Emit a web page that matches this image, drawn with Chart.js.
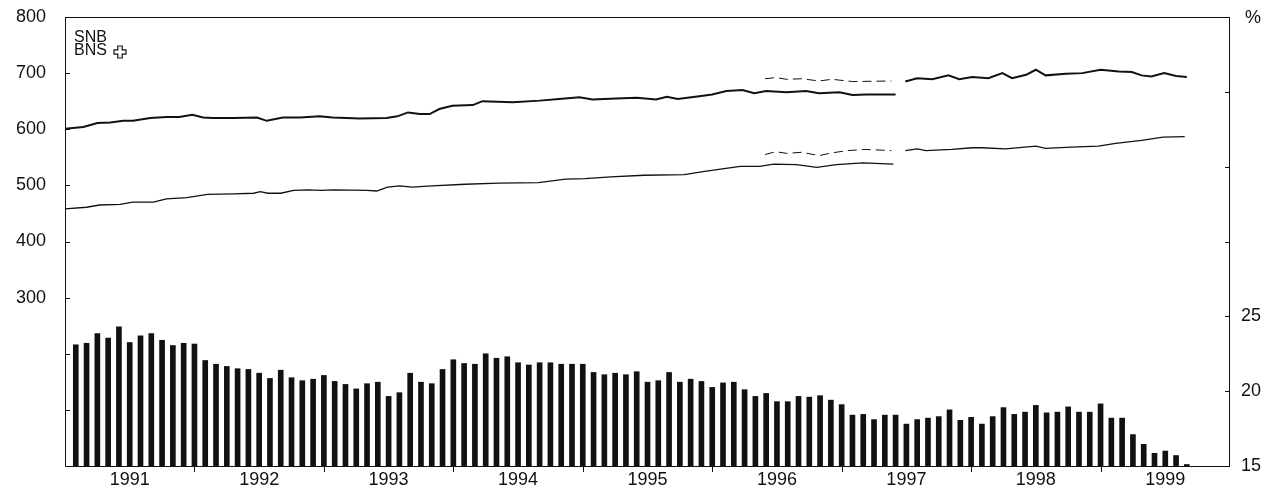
<!DOCTYPE html>
<html>
<head>
<meta charset="utf-8">
<script src="https://cdn.jsdelivr.net/npm/chart.js@4.4.1/dist/chart.umd.min.js"></script>
<style>
  html, body { margin: 0; padding: 0; background: #fff; }
  canvas { display: block; }
</style>
</head>
<body>
<canvas id="chart" width="1267" height="493"></canvas>
<script>
// year labels, centred on each year (x axis is in months since Jan 1991)
const years = ['1991', '1992', '1993', '1994', '1995', '1996', '1997', '1998', '1999'];

// monthly bars, right axis (%), one per month end from Jan 1991
const rateValues = [
    23.1, 23.2, 23.85, 23.55, 24.3, 23.25, 23.7, 23.85, 23.4, 23.05, 23.2, 23.15,
    22.05, 21.8, 21.65, 21.5, 21.45, 21.2, 20.85, 21.4, 20.9, 20.7, 20.8, 21.05,
    20.65, 20.45, 20.15, 20.5, 20.6, 19.65, 19.9, 21.2, 20.6, 20.5, 21.45, 22.1,
    21.85, 21.8, 22.5, 22.2, 22.3, 21.9, 21.75, 21.9, 21.9, 21.8, 21.8, 21.8,
    21.25, 21.1, 21.2, 21.1, 21.3, 20.6, 20.7, 21.25, 20.6, 20.8, 20.65, 20.25,
    20.55, 20.6, 20.1, 19.65, 19.85, 19.3, 19.3, 19.65, 19.6, 19.7, 19.4, 19.1,
    18.4, 18.45, 18.1, 18.4, 18.4, 17.8, 18.1, 18.2, 18.3, 18.75, 18.05, 18.25,
    17.8, 18.3, 18.9, 18.45, 18.6, 19.05, 18.55, 18.6, 18.95, 18.6, 18.6, 19.15,
    18.2, 18.2, 17.1, 16.45, 15.85, 16.0, 15.7, 15.1
];

// upper line (left axis), first solid part
const upperMonthsA = [0, 1.7, 3, 4.2, 5.4, 6.3, 7.9, 9.4, 10.6, 11.8, 12.8, 13.7, 15.6, 17.8, 18.7, 20.2, 21.8, 23.6, 24.8, 27.3, 29.8, 30.8, 31.8, 32.9, 33.8, 34.7, 35.9, 37.8, 38.7, 41.5, 44, 45.8, 47.7, 48.9, 51.1, 53, 54.8, 55.8, 56.8, 58.8, 60, 61.3, 62.8, 63.9, 65, 66.9, 68.7, 69.9, 71.8, 73, 74.3, 77];
const upperValuesA = [601, 604, 611, 612, 615, 615, 620, 622, 622, 626, 621, 620, 620, 621, 615, 621, 621, 623, 621, 619, 620, 623, 630, 627, 627, 636, 642, 643, 650, 648, 651, 654, 657, 653, 655, 656, 653, 658, 654, 659, 662, 668, 670, 664, 668, 666, 668, 664, 666, 661, 662, 662];
// upper line, second solid part
const upperMonthsB = [77.9, 79, 80.4, 81.9, 82.9, 84.1, 85.6, 86.9, 87.8, 89.1, 90, 90.9, 92.8, 94.3, 96, 97.7, 98.9, 99.8, 100.7, 101.9, 103, 104];
const upperValuesB = [685, 691, 689, 696, 689, 693, 691, 700, 691, 697, 706, 696, 699, 700, 706, 703, 702, 696, 694, 700, 695, 693];
// upper line, dashed part
const upperMonthsD = [64.9, 65.9, 66.9, 68.3, 69.9, 71.1, 73, 76.6];
const upperValuesD = [690, 692, 689, 690, 686, 689, 685, 686];

// lower line (left axis), first solid part
const lowerMonthsA = [0, 2, 3.2, 5.1, 6.3, 8.2, 9.4, 11.3, 13.2, 15.6, 17.5, 18.1, 18.8, 20, 21.2, 22.5, 23.7, 24.9, 28, 28.9, 29.9, 31, 32.2, 34, 37.1, 40.2, 43.9, 46.4, 48.2, 50.6, 53.7, 57.4, 59.3, 61.1, 62.6, 64.4, 65.7, 67.8, 69.7, 71.5, 74, 76.8];
const lowerValuesA = [458, 461, 465, 466, 470, 470, 476, 478, 484, 485, 486, 489, 486, 486, 491, 492, 491, 492, 491, 490, 497, 499, 497, 499, 502, 504, 505, 511, 512, 515, 518, 519, 525, 530, 534, 534, 538, 537, 532, 537, 540, 538];
// lower line, second solid part
const lowerMonthsB = [77.9, 79, 79.8, 82.2, 84.1, 85, 87.2, 90, 90.9, 93.3, 95.8, 97.4, 99.8, 101.8, 103.8];
const lowerValuesB = [562, 565, 562, 564, 567, 567, 565, 570, 566, 568, 570, 575, 580, 586, 587];
// lower line, dashed part
const lowerMonthsD = [64.9, 65.9, 66.9, 68.3, 69.9, 71.1, 72.6, 74.2, 76.6];
const lowerValuesD = [555, 560, 557, 559, 553, 558, 562, 564, 562];

const ink = '#111';
const font = { family: "'Liberation Sans', Arial, sans-serif", size: 18 };
const noGrid = { display: false, drawTicks: false, tickLength: 0 };

function pts(months, values) {
    return months.map((m, i) => ({ x: m, y: values[i] }));
}

function lineSet(months, values, width, dash) {
    return {
        type: 'line',
        data: pts(months, values),
        yAxisID: 'yLeft',
        borderColor: ink,
        borderWidth: width,
        borderDash: dash || [],
        pointRadius: 0,
        tension: 0,
        fill: false
    };
}

// fixed axis sizes, and no extra padding from tick labels
function fixSize(w, h) {
    return s => {
        if (w) s.width = w;
        if (h) s.height = h;
        s.paddingTop = 0;
        s.paddingBottom = 0;
        s.paddingLeft = 0;
        s.paddingRight = 0;
    };
}

// frame, inward ticks, year ticks, SNB mark and % label
const decorations = {
    id: 'decorations',
    afterDraw(chart) {
        const { ctx, chartArea: a, scales } = chart;
        ctx.save();
        ctx.strokeStyle = ink;
        ctx.lineWidth = 1;
        ctx.strokeRect(a.left + 0.5, a.top + 0.5, a.right - a.left - 1, a.bottom - a.top);

        ctx.beginPath();
        for (let v = 100; v < 800; v += 100) {
            const y = Math.round(scales.yLeft.getPixelForValue(v)) + 0.5;
            ctx.moveTo(a.left, y);
            ctx.lineTo(a.left + 5, y);
        }
        for (let v = 20; v < 45; v += 5) {
            const y = Math.round(scales.yRight.getPixelForValue(v)) + 0.5;
            ctx.moveTo(a.right, y);
            ctx.lineTo(a.right - 5, y);
        }
        for (let m = 12; m < 108; m += 12) {
            const x = Math.round(scales.x.getPixelForValue(m)) + 0.5;
            ctx.moveTo(x, a.bottom);
            ctx.lineTo(x, a.bottom + 6);
        }
        ctx.stroke();

        ctx.fillStyle = ink;
        ctx.font = "18px 'Liberation Sans', Arial, sans-serif";
        ctx.textAlign = 'left';
        ctx.textBaseline = 'middle';
        ctx.fillText('%', a.right + 15, 18);

        ctx.font = "16px 'Liberation Sans', Arial, sans-serif";
        ctx.fillText('SNB', a.left + 9, 38);
        ctx.fillText('BNS', a.left + 9, 51);

        // outlined Swiss cross
        const cx = a.left + 55, cy = 52, h = 2.2, s = 6;
        ctx.beginPath();
        ctx.moveTo(cx - h, cy - s);
        ctx.lineTo(cx + h, cy - s);
        ctx.lineTo(cx + h, cy - h);
        ctx.lineTo(cx + s, cy - h);
        ctx.lineTo(cx + s, cy + h);
        ctx.lineTo(cx + h, cy + h);
        ctx.lineTo(cx + h, cy + s);
        ctx.lineTo(cx - h, cy + s);
        ctx.lineTo(cx - h, cy + h);
        ctx.lineTo(cx - s, cy + h);
        ctx.lineTo(cx - s, cy - h);
        ctx.lineTo(cx - h, cy - h);
        ctx.closePath();
        ctx.lineWidth = 1.2;
        ctx.stroke();
        ctx.restore();
    }
};

new Chart(document.getElementById('chart'), {
    type: 'bar',
    data: {
        datasets: [
            lineSet(upperMonthsA, upperValuesA, 2),
            lineSet(upperMonthsB, upperValuesB, 2),
            lineSet(upperMonthsD, upperValuesD, 1, [9, 5]),
            lineSet(lowerMonthsA, lowerValuesA, 1.3),
            lineSet(lowerMonthsB, lowerValuesB, 1.3),
            lineSet(lowerMonthsD, lowerValuesD, 1, [9, 5]),
            {
                type: 'bar',
                data: rateValues.map((v, i) => ({ x: i + 1, y: v })),
                yAxisID: 'yRight',
                backgroundColor: ink,
                barThickness: 5,
                base: 15
            }
        ]
    },
    options: {
        responsive: false,
        animation: false,
        devicePixelRatio: 1,
        layout: { padding: { top: 17, left: 0, right: 0, bottom: 0 } },
        plugins: { legend: { display: false }, tooltip: { enabled: false } },
        scales: {
            x: {
                type: 'linear',
                offset: false,
                min: 0,
                max: 108,
                grid: noGrid,
                border: { display: false },
                afterBuildTicks: s => { s.ticks = years.map((y, i) => ({ value: 6 + 12 * i })); },
                afterFit: fixSize(0, 27),
                ticks: {
                    autoSkip: false,
                    maxRotation: 0,
                    padding: 3,
                    color: ink,
                    font: font,
                    callback: v => years[Math.round((v - 6) / 12)]
                }
            },
            yLeft: {
                position: 'left',
                min: 0,
                max: 800,
                grid: noGrid,
                border: { display: false },
                afterFit: fixSize(65, 0),
                ticks: {
                    stepSize: 100,
                    padding: 19,
                    color: ink,
                    font: font,
                    callback: v => (v >= 300 ? v : '')
                }
            },
            yRight: {
                position: 'right',
                min: 15,
                max: 45,
                grid: noGrid,
                border: { display: false },
                afterFit: fixSize(37, 0),
                ticks: {
                    stepSize: 5,
                    padding: 11,
                    color: ink,
                    font: font,
                    callback: v => (v <= 25 ? v : '')
                }
            }
        }
    },
    plugins: [decorations]
});
</script>
</body>
</html>
